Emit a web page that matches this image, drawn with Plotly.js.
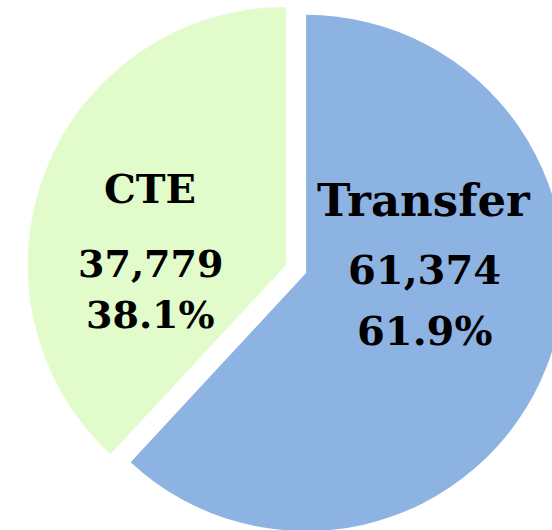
<!DOCTYPE html>
<html>
<head>
<meta charset="utf-8">
<script src="https://cdn.plot.ly/plotly-3.0.1.min.js"></script>
<style>
html, body { margin: 0; padding: 0; overflow: hidden; background: #ffffff; }
#chart { width: 566px; height: 538px; }
</style>
</head>
<body>
<div id="chart"></div>
<script>
var categories = ["Transfer", "CTE"];
var counts = [61374, 37779];
var sliceColors = ["#8DB3E2", "#E1FBCB"];

var total = counts.reduce(function (a, b) { return a + b; }, 0);
var countText = counts.map(function (v) { return v.toLocaleString("en-US"); });
var pctText = counts.map(function (v) { return (v / total * 100).toFixed(1) + "%"; });

var trace = {
  type: "pie",
  labels: categories,
  values: counts,
  sort: false,
  direction: "clockwise",
  rotation: 0,
  pull: [0.042, 0.042],
  marker: { colors: sliceColors, line: { width: 0 } },
  textinfo: "none",
  hoverinfo: "none"
};

// plot area: left 27px, width/height 538px
var W = 538, L = 27;
function px(x) { return (x - L) / W; }
function py(y) { return 1 - y / W; }

// text placement (pixels) per slice: [x, labelY, countY, pctY, labelSize, numSize]
var place = [
  [424, 200, 269, 330, 45, 40],
  [150, 189, 263, 314, 40, 38]
];

var annotations = [];
for (var i = 0; i < categories.length; i++) {
  var p = place[i];
  var lines = [categories[i], countText[i], pctText[i]];
  var ys = [p[1], p[2], p[3]];
  for (var k = 0; k < 3; k++) {
    annotations.push({
      xref: "paper", yref: "paper",
      x: px(p[0]), y: py(ys[k]),
      xanchor: "center", yanchor: "middle",
      text: "<b>" + lines[k] + "</b>",
      showarrow: false,
      font: { family: "DejaVu Serif", size: k === 0 ? p[4] : p[5], color: "#000000" }
    });
  }
}

var layout = {
  width: 566,
  height: 538,
  margin: { l: 27, r: 1, t: 0, b: 0 },
  showlegend: false,
  paper_bgcolor: "#ffffff",
  plot_bgcolor: "#ffffff",
  annotations: annotations
};

Plotly.newPlot("chart", [trace], layout, { displayModeBar: false, staticPlot: true });
</script>
</body>
</html>
